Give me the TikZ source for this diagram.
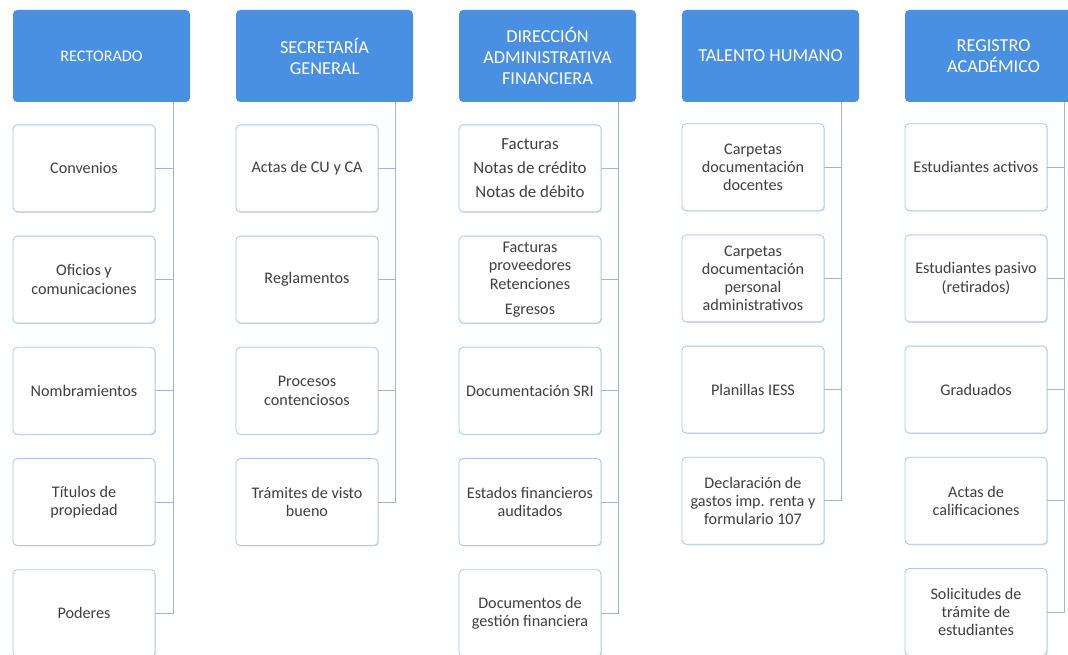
\documentclass[tikz,border=0pt]{standalone}
\usepackage{fontspec}
\setmainfont{Carlito}
\usepackage{xcolor}
\usetikzlibrary{positioning, shadows, calc}
\definecolor{headblue}{RGB}{74, 144, 226}
\definecolor{boxline}{RGB}{165, 202, 236}
\definecolor{linkblue}{RGB}{150, 185, 222}
\definecolor{textgray}{RGB}{62, 62, 66}
\tikzstyle{header} = [rectangle, rounded corners=3pt, minimum width=4.425cm, minimum height=2.3cm, align=center, fill=headblue, text=white, font=\fontsize{13}{15}\selectfont]
\tikzstyle{item} = [rectangle, rounded corners=3pt, minimum width=3.55cm, minimum height=2.175cm, align=center, draw=boxline, line width=0.6pt, fill=white, text=textgray, font=\fontsize{11.5}{13}\selectfont, drop shadow={shadow xshift=0.7pt, shadow yshift=-0.7pt, opacity=0.12, fill=black}]
\tikzstyle{link} = [linkblue, line width=0.7pt]

\begin{document}
\begin{tikzpicture}[node distance=2.78cm]
\useasboundingbox (0,0) rectangle (26.7,-16.375);

% Headers
\node (rectorado) [header, font=\fontsize{11.5}{14}\selectfont] at (2.5375,-1.4) {RECTORADO};
\node (secretaria) [header, right of=rectorado, xshift=2.795cm] {SECRETARÍA\\GENERAL};
\node (direccion) [header, right of=secretaria, xshift=2.795cm] {DIRECCIÓN\\ADMINISTRATIVA\\FINANCIERA};
\node (talento) [header, right of=direccion, xshift=2.795cm] {TALENTO HUMANO};
\node (registro) [header, right of=talento, xshift=2.795cm] {REGISTRO\\ACADÉMICO};

% Rectorado
\node (convenios) [item, below of=rectorado, xshift=-0.4375cm, yshift=-0.03cm] {Convenios};
\node (oficios) [item, below of=convenios] {Oficios y\\comunicaciones};
\node (nombramientos) [item, below of=oficios] {Nombramientos};
\node (titulos) [item, below of=nombramientos] {Títulos de\\propiedad};
\node (poderes) [item, below of=titulos] {Poderes};

% Secretaria general
\node (actas) [item, below of=secretaria, xshift=-0.4375cm, yshift=-0.03cm] {Actas de CU y CA};
\node (reglamentos) [item, below of=actas] {Reglamentos};
\node (procesos) [item, below of=reglamentos] {Procesos\\contenciosos};
\node (tramites) [item, below of=procesos] {Trámites de visto\\bueno};

% Direccion administrativa financiera
\node (facturas) [item, below of=secretaria, xshift=5.1375cm, yshift=-0.03cm, font=\fontsize{12}{13}\selectfont] {Facturas\\[4pt]Notas de crédito\\[4pt]Notas de débito};
\node (proveedores) [item, below of=facturas] {Facturas\\proveedores\\Retenciones\\[5pt]Egresos};
\node (sri) [item, below of=proveedores] {Documentación SRI};
\node (estados) [item, below of=sri] {Estados financieros\\auditados};
\node (gestion) [item, below of=estados] {Documentos de\\gestión financiera};

% Talento humano
\node (docentes) [item, below of=talento, xshift=-0.4375cm] {Carpetas\\documentación\\docentes};
\node (administrativos) [item, below of=docentes] {Carpetas\\documentación\\personal\\administrativos};
\node (planillas) [item, below of=administrativos] {Planillas IESS};
\node (declaracion) [item, below of=planillas] {Declaración de\\gastos imp. renta y\\formulario 107};

% Registro academico
\node (activos) [item, below of=registro, xshift=-0.4375cm] {Estudiantes activos};
\node (pasivos) [item, below of=activos] {Estudiantes pasivo\\(retirados)};
\node (graduados) [item, below of=pasivos] {Graduados};
\node (calificaciones) [item, below of=graduados] {Actas de\\calificaciones};
\node (solicitudes) [item, below of=calificaciones] {Solicitudes de\\trámite de\\estudiantes};

% Bus lines
\coordinate (rectorado_bus) at ([xshift=-0.425cm]rectorado.south east);
\coordinate (secretaria_bus) at ([xshift=-0.45cm]secretaria.south east);
\coordinate (direccion_bus) at ([xshift=-0.45cm]direccion.south east);
\coordinate (talento_bus) at ([xshift=-0.45cm]talento.south east);
\coordinate (registro_bus) at ([xshift=-0.45cm]registro.south east);

\draw [link] (rectorado_bus) |- (poderes);
\draw [link] (convenios) -- (convenios -| rectorado_bus);
\draw [link] (oficios) -- (oficios -| rectorado_bus);
\draw [link] (nombramientos) -- (nombramientos -| rectorado_bus);
\draw [link] (titulos) -- (titulos -| rectorado_bus);

\draw [link] (secretaria_bus) |- (tramites);
\draw [link] (actas) -- (actas -| secretaria_bus);
\draw [link] (reglamentos) -- (reglamentos -| secretaria_bus);
\draw [link] (procesos) -- (procesos -| secretaria_bus);

\draw [link] (direccion_bus) |- (gestion);
\draw [link] (facturas) -- (facturas -| direccion_bus);
\draw [link] (proveedores) -- (proveedores -| direccion_bus);
\draw [link] (sri) -- (sri -| direccion_bus);
\draw [link] (estados) -- (estados -| direccion_bus);

\draw [link] (talento_bus) |- (declaracion);
\draw [link] (docentes) -- (docentes -| talento_bus);
\draw [link] (administrativos) -- (administrativos -| talento_bus);
\draw [link] (planillas) -- (planillas -| talento_bus);

\draw [link] (registro_bus) |- (solicitudes);
\draw [link] (activos) -- (activos -| registro_bus);
\draw [link] (pasivos) -- (pasivos -| registro_bus);
\draw [link] (graduados) -- (graduados -| registro_bus);
\draw [link] (calificaciones) -- (calificaciones -| registro_bus);

\end{tikzpicture}
\end{document}
